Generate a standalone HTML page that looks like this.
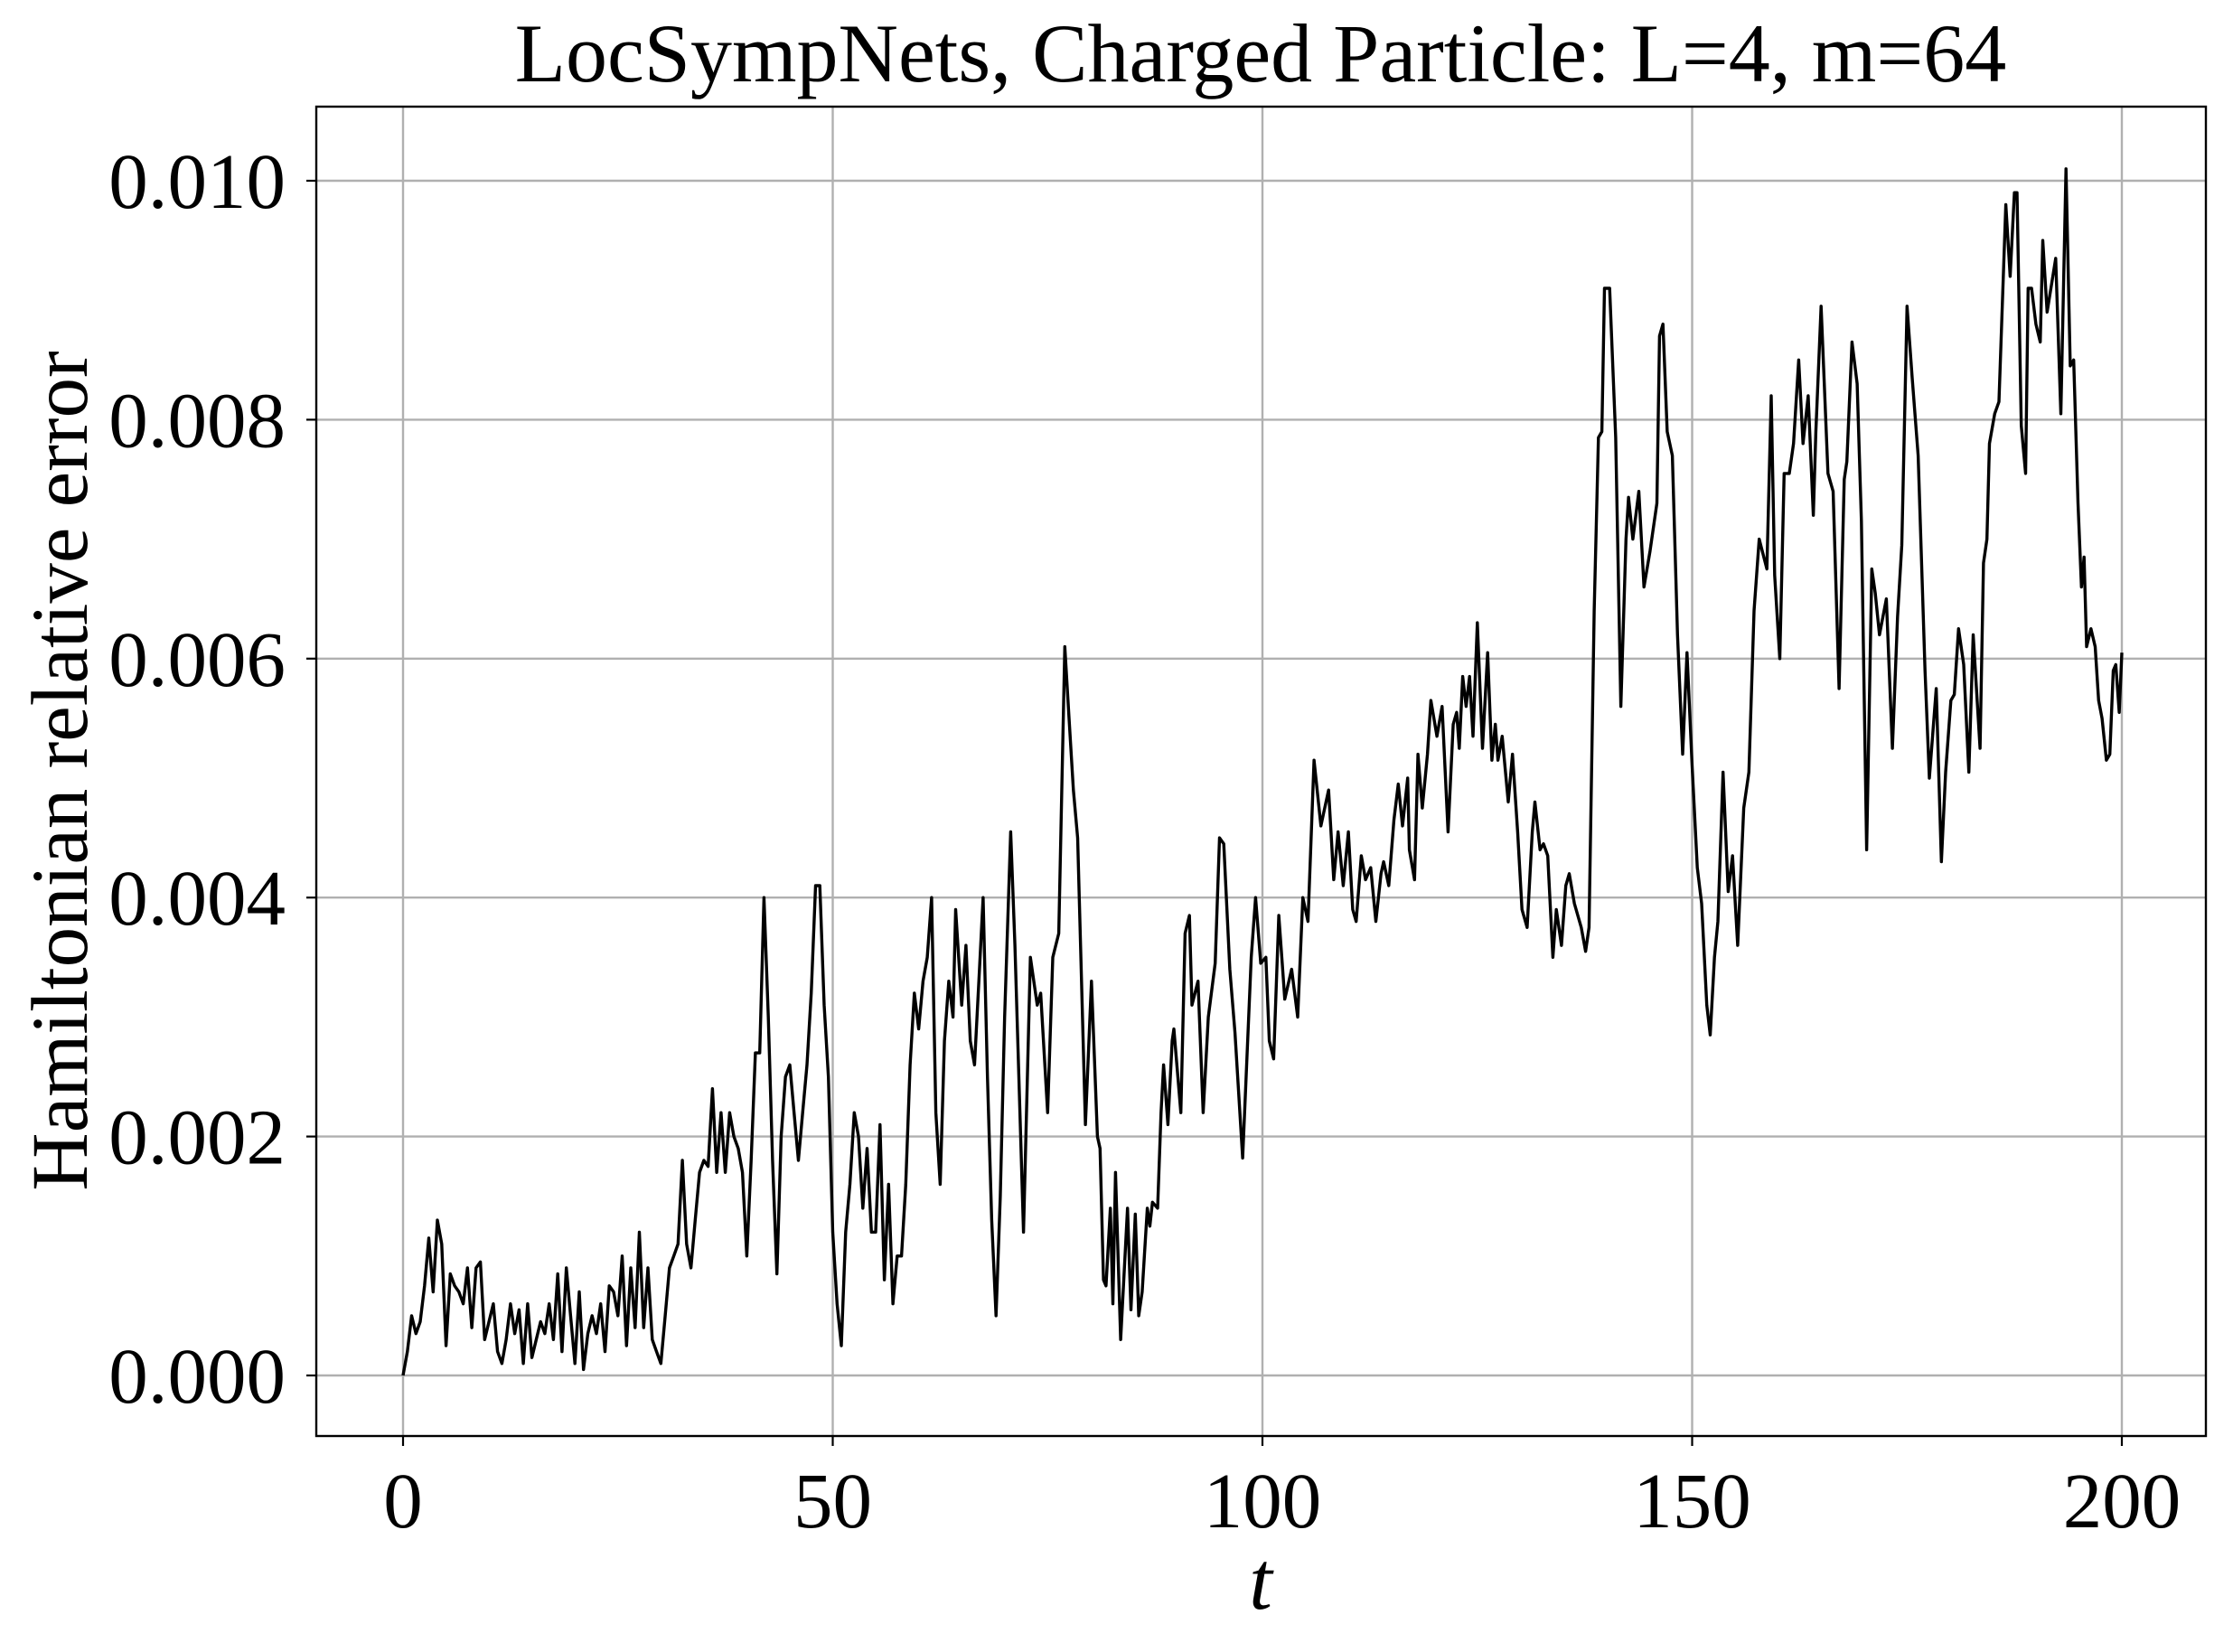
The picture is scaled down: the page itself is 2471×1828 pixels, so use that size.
<!DOCTYPE html>
<html><head><meta charset="utf-8"><style>
html,body{margin:0;padding:0;background:#fff;}
svg{display:block;}
text{font-family:"Liberation Serif",serif;fill:#000;}
</style></head><body>
<svg id="chart" width="2471" height="1828" viewBox="0 0 2471 1828" xmlns="http://www.w3.org/2000/svg">
<rect x="0" y="0" width="2471" height="1828" fill="#fff"/>
<g id="grid"></g>
<g id="series"></g>
<rect x="350" y="118" width="2091" height="1471" fill="none" stroke="#000" stroke-width="2.4"/>
<g id="ticks"></g>
<text x="1395" y="90" font-size="92" text-anchor="middle">LocSympNets, Charged Particle: L=4, m=64</text>
<text x="1395" y="1780" font-size="92" font-style="italic" text-anchor="middle">t</text>
<text transform="translate(96,853) rotate(-90)" font-size="89" text-anchor="middle">Hamiltonian relative error</text>
</svg>
<script>
const xTicks=[0,50,100,150,200];
const xTickLabels=["0","50","100","150","200"];
const yTicks=[0,0.002,0.004,0.006,0.008,0.010];
const yTickLabels=["0.000","0.002","0.004","0.006","0.008","0.010"];
const times=[0,0.5,1,1.5,2,2.5,3,3.5,4,4.5,5,5.5,6,6.5,7,7.5,8,8.5,9,9.5,10,10.5,11,11.5,12,12.5,13,13.5,14,14.5,15,15.5,16,16.5,17,17.5,18,18.5,19,19.5,20,20.5,21,21.5,22,22.5,23,23.5,24,24.5,25,25.5,26,26.5,27,27.5,28,28.5,29,29.5,30,30.5,31,31.5,32,32.5,33,33.5,34,34.5,35,35.5,36,36.5,37,37.5,38,38.5,39,39.5,40,40.5,41,41.5,42,42.5,43,43.5,44,44.5,45,45.5,46,46.5,47,47.5,48,48.5,49,49.5,50,50.5,51,51.5,52,52.5,53,53.5,54,54.5,55,55.5,56,56.5,57,57.5,58,58.5,59,59.5,60,60.5,61,61.5,62,62.5,63,63.5,64,64.3,65,65.5,66,66.5,67,67.5,68,68.5,69,69.5,70,70.7,71.2,72.2,73,73.8,74.2,75,75.6,76.3,77,77.5,78,78.5,79.4,80.1,80.8,81.1,81.5,81.8,82.3,82.6,82.9,83.5,84.3,84.7,85.2,85.6,86,86.6,86.9,87.2,87.8,88.2,88.5,89,89.5,89.7,90.5,91,91.5,91.8,92.5,93.1,93.7,94.5,95,95.5,96.2,96.8,97.7,98.7,99.2,99.8,100.4,100.8,101.3,101.9,102.3,102.6,103.4,104.1,104.7,105.3,106,106.8,107.1,107.7,108.3,108.8,109.4,110,110.5,110.9,111.5,112,112.6,113.2,113.8,114.1,114.7,115.3,115.8,116.3,116.9,117.1,117.7,118.1,118.6,119.2,119.6,120.3,120.9,121.6,122.2,122.6,122.9,123.3,123.7,124.1,124.5,125,125.6,126.2,126.7,127.1,127.4,127.9,128.6,129.1,129.7,130.2,130.8,131.4,131.7,132.3,132.7,133.2,133.8,134.2,134.8,135.3,135.7,136.3,137.1,137.6,138,138.6,139.1,139.5,139.8,140.4,141.1,141.7,142.3,142.6,143.1,143.8,144.4,145.1,145.9,146.2,146.6,147.1,147.7,148.3,148.9,149.4,150,150.6,151.1,151.7,152.1,152.6,153,153.6,154.2,154.7,155.3,156,156.6,157.2,157.8,158.7,159.2,159.6,160.2,160.7,161.3,161.8,162.4,162.9,163.5,164.1,164.4,165,165.8,166.4,167.1,167.7,168,168.6,169.2,169.7,170.3,170.9,171.3,171.8,172.6,173.3,173.9,174.4,175,175.6,176.3,177.1,177.6,178.4,179,179.5,180.1,180.5,181,181.6,182.2,182.7,183.5,183.9,184.3,184.6,185.2,185.7,186.5,187,187.5,187.8,188.3,188.8,189.1,189.5,190,190.5,190.8,191.3,192.3,192.9,193.5,194,194.4,194.9,195.3,195.6,195.9,196.4,196.9,197.3,197.7,198.2,198.6,199,199.3,199.7,200];
const errors=[0,0.2,0.5,0.35,0.45,0.75,1.15,0.7,1.3,1.1,0.25,0.85,0.75,0.7,0.6,0.9,0.4,0.9,0.95,0.3,0.45,0.6,0.2,0.1,0.3,0.6,0.35,0.55,0.1,0.6,0.15,0.3,0.45,0.35,0.6,0.3,0.85,0.2,0.9,0.5,0.1,0.7,0.05,0.35,0.5,0.35,0.6,0.2,0.75,0.7,0.5,1.0,0.25,0.9,0.4,1.2,0.4,0.9,0.3,0.2,0.1,0.5,0.9,1.0,1.1,1.8,1.1,0.9,1.3,1.7,1.8,1.75,2.4,1.7,2.2,1.7,2.2,2.0,1.9,1.7,1.0,1.8,2.7,2.7,4.0,3.0,1.8,0.85,2.0,2.5,2.6,2.2,1.8,2.2,2.6,3.2,4.1,4.1,3.1,2.5,1.2,0.6,0.25,1.2,1.6,2.2,2.0,1.4,1.9,1.2,1.2,2.1,0.8,1.6,0.6,1.0,1.0,1.6,2.6,3.2,2.9,3.3,3.5,4.0,2.2,1.6,2.8,3.3,3.0,3.9,3.1,3.6,2.8,2.6,3.3,4.0,2.5,1.3,0.5,1.5,3.0,4.55,3.6,1.2,3.5,3.1,3.2,2.2,3.5,3.7,6.1,5.5,4.9,4.5,2.1,3.3,2.0,1.9,0.8,0.75,1.4,0.6,1.7,0.3,1.4,0.55,1.35,0.5,0.7,1.4,1.25,1.45,1.4,2.2,2.6,2.1,2.8,2.9,2.2,3.7,3.85,3.1,3.3,2.2,3.0,3.45,4.5,4.45,3.4,2.87,1.82,3.5,4.0,3.45,3.5,2.8,2.65,3.85,3.45,3.15,3.4,3.0,4.0,3.8,5.15,4.6,4.7,4.9,4.15,4.55,4.1,4.55,3.9,3.8,4.35,4.15,4.25,3.8,4.2,4.3,4.1,4.65,4.95,4.6,5.0,4.4,4.15,5.2,4.75,5.2,5.65,5.35,5.6,4.55,5.45,5.55,5.25,5.85,5.6,5.85,5.35,6.3,5.25,6.05,5.15,5.45,5.15,5.35,4.8,5.2,4.55,3.9,3.75,4.55,4.8,4.4,4.45,4.35,3.5,3.9,3.6,4.1,4.2,3.95,3.75,3.55,3.75,6.4,7.85,7.9,9.1,9.1,7.85,5.6,7.0,7.35,7.0,7.4,6.6,6.9,7.3,8.7,8.8,7.9,7.7,6.2,5.2,6.05,5.1,4.25,3.95,3.1,2.85,3.5,3.8,5.05,4.05,4.35,3.6,4.75,5.05,6.4,7.0,6.75,8.2,6.7,6.0,7.55,7.55,7.8,8.5,7.8,8.2,7.2,7.9,8.95,7.55,7.4,5.75,7.5,7.65,8.65,8.3,7.15,4.4,6.75,6.55,6.2,6.5,5.25,6.35,6.95,8.95,8.35,7.7,5.9,5.0,5.75,4.3,5.05,5.65,5.7,6.25,5.95,5.05,6.2,5.25,6.8,7.0,7.8,8.05,8.15,9.8,9.2,9.9,9.9,7.95,7.55,9.1,9.1,8.8,8.65,9.5,8.9,9.35,8.05,10.1,8.45,8.5,7.3,6.6,6.85,6.1,6.25,6.1,5.65,5.5,5.15,5.2,5.9,5.95,5.55,6.05,5.9];
const NS='http://www.w3.org/2000/svg';
const X0=350,X1=2441,Y0=118,Y1=1589;
function xs(t){return 446+(t-0)*(2348-446)/200;}
function ys(v){return 1522-v*(1522-200)/0.010;}
function mk(tag,attrs,parent){const e=document.createElementNS(NS,tag);for(const k in attrs)e.setAttribute(k,attrs[k]);parent.appendChild(e);return e;}
const grid=document.getElementById('grid'),ticks=document.getElementById('ticks'),series=document.getElementById('series');
xTicks.forEach((t,i)=>{
  const x=xs(t);
  const g=mk('line',{x1:x,x2:x,y1:Y0,y2:Y1,stroke:'#b0b0b0','stroke-width':2.4},grid);
  
  
  const tk=mk('line',{x1:x,x2:x,y1:Y1,y2:Y1+11,stroke:'#000','stroke-width':2.2},ticks);
  
  
  const lb=mk('text',{x:x,y:1690,'font-size':87,'text-anchor':'middle'},ticks);
  lb.textContent=xTickLabels[i];
  
  
});
yTicks.forEach((v,i)=>{
  const y=ys(v);
  const g=mk('line',{x1:X0,x2:X1,y1:y,y2:y,stroke:'#b0b0b0','stroke-width':2.4},grid);
  
  
  const tk=mk('line',{x1:X0-11,x2:X0,y1:y,y2:y,stroke:'#000','stroke-width':2.2},ticks);
  
  
  const lb=mk('text',{x:316,y:y+30,'font-size':87,'text-anchor':'end'},ticks);
  lb.textContent=yTickLabels[i];
  
  
});
let d='';
for(let i=0;i<times.length;i++){d+=(i?'L':'M')+xs(times[i]).toFixed(1)+','+ys(errors[i]*0.001).toFixed(1);}
const p=mk('path',{d:d,fill:'none',stroke:'#000','stroke-width':3.4,'stroke-linejoin':'round'},series);


</script>
</body></html>
